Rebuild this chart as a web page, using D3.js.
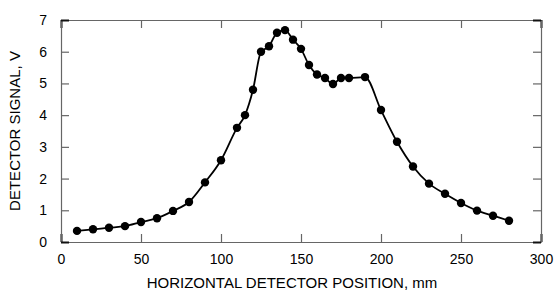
<!DOCTYPE html>
<html>
<head>
  <title></title>
  <script src="https://cdn.jsdelivr.net/npm/d3@7"></script>
  <style type="text/css">
    body { margin: 0; background: white; }
    .tick text { font-family: "Liberation Sans", Arial, sans-serif; font-size: 14px; fill: #000; }
    .domain, .tick line { stroke: #666; stroke-width: 1.2px; }
    .title { font-family: "Liberation Sans", Arial, sans-serif; font-size: 15px; fill: #000; }
  </style>
</head>
<body>
  <div class="chart"></div>
  <script type="text/javascript">
    // detector position (mm) and signal (V)
    var positions = [10, 20, 30, 40, 50, 60, 70, 80, 90, 100, 110, 115, 120, 125, 130, 135, 140, 145, 150, 155, 160, 165, 170, 175, 180, 190, 200, 210, 220, 230, 240, 250, 260, 270, 280];
    var signal = [0.35, 0.4, 0.45, 0.5, 0.63, 0.75, 0.98, 1.26, 1.88, 2.58, 3.6, 4.0, 4.8, 6.0, 6.17, 6.6, 6.68, 6.38, 6.09, 5.58, 5.28, 5.17, 4.98, 5.17, 5.17, 5.2, 4.16, 3.16, 2.38, 1.84, 1.52, 1.23, 0.99, 0.83, 0.67];
    var xTicks = [0, 50, 100, 150, 200, 250, 300];
    var yTicks = [0, 1, 2, 3, 4, 5, 6, 7];

    var margin = { top: 20, left: 61, bottom: 48, right: 15 };
    var width = 480;
    var height = 222;

    var svg = d3.select('.chart').append('svg')
      .attr('width', 556).attr('height', 290)
      .append('g')
        .attr('transform', 'translate(' + margin.left + ',' + margin.top + ')');

    var x = d3.scaleLinear().domain([0, 300]).range([0, width]);
    var y = d3.scaleLinear().domain([0, 7]).range([height, 0]);

    svg.append('g')
      .attr('transform', 'translate(0,' + height + ')')
      .call(d3.axisBottom(x).tickValues(xTicks).tickSizeInner(-8).tickSizeOuter(0).tickPadding(12));
    svg.append('g')
      .call(d3.axisTop(x).tickValues(xTicks).tickSizeInner(-8).tickSizeOuter(0).tickFormat(''));
    svg.append('g')
      .call(d3.axisLeft(y).tickValues(yTicks).tickFormat(d3.format('d')).tickSizeInner(-8).tickSizeOuter(0).tickPadding(14));
    svg.append('g')
      .attr('transform', 'translate(' + width + ',0)')
      .call(d3.axisRight(y).tickValues(yTicks).tickSizeInner(-8).tickSizeOuter(0).tickFormat(''));

    // dark corners
    svg.selectAll('.tick line').filter(function (d) {
      return d === 0 || d === 7 || d === 300;
    }).style('stroke', '#111').style('stroke-width', '2px');

    var pts = positions.map(function (p, i) { return [p, signal[i]]; });

    var line = d3.line()
      .x(function (d) { return x(d[0]); })
      .y(function (d) { return y(d[1]); })
      .curve(d3.curveMonotoneX);

    svg.append('path')
      .datum(pts)
      .attr('d', line)
      .attr('fill', 'none')
      .attr('stroke', '#000')
      .attr('stroke-width', 1.8);

    svg.append('g').selectAll('circle')
      .data(pts).enter().append('circle')
        .attr('cx', function (d) { return x(d[0]); })
        .attr('cy', function (d) { return y(d[1]); })
        .attr('r', 4.2)
        .attr('fill', '#000');

    svg.append('text')
      .attr('class', 'title')
      .attr('x', width / 2 - 9)
      .attr('y', height + 46)
      .attr('text-anchor', 'middle')
      .text('HORIZONTAL DETECTOR POSITION, mm');

    svg.append('text')
      .attr('class', 'title')
      .attr('transform', 'rotate(-90)')
      .attr('x', -height / 2)
      .attr('y', -41)
      .attr('text-anchor', 'middle')
      .text('DETECTOR SIGNAL, V');
  </script>
</body>
</html>
